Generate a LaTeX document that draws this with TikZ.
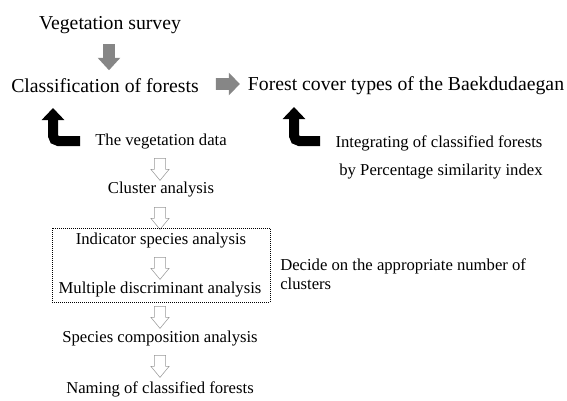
\documentclass[tikz,border=0pt]{standalone}
\usepackage{fontspec}
\setmainfont{Liberation Serif}
\usetikzlibrary{shapes.arrows,arrows.meta,positioning}

\begin{document}
\begin{tikzpicture}[x = 0.75pt, y = -0.75pt,
	big/.style = {font = \fontsize{14.8}{17}\selectfont, inner sep = 0pt},
	small/.style = {font = \fontsize{12.5}{14}\selectfont, inner sep = 0pt},
	grayarrow/.style = {single arrow, fill = gray!95, draw = none, inner xsep = 0pt,
		inner ysep = 4.2pt, single arrow head extend = 4.1pt},
	whitearrow/.style = {single arrow, draw = gray!80, fill = white, line width = 0.4pt,
		minimum height = 16.5pt, inner xsep = 0pt, inner ysep = 4pt,
		single arrow head extend = 2.6pt, single arrow tip angle = 79, rotate = -90},
	bent/.style = {line width = 7.5pt, rounded corners = 4pt,
		-{Triangle[width = 16.5pt, length = 9pt]}}]
	\useasboundingbox (0,0) rectangle (567,400);

	% top line
	\node[big] (survey) at (110,25) {Vegetation survey};
	\node[big] (classif) at (105,86) {Classification of forests};
	\node[big] (cover) at (406,86) {Forest cover types of the Baekdudaegan};
	\node[grayarrow, minimum height = 19.5pt, single arrow tip angle = 85,
		rotate = -90] (a0) at (109,54) {};
	\node[grayarrow, minimum height = 18pt, single arrow tip angle = 92] (a1) at (225,84) {};

	% bent arrows
	\coordinate (b1s) at (80,141);
	\coordinate (b1e) at (53,108);
	\coordinate (b2s) at (320,141);
	\coordinate (b2e) at (294,107);
	\draw[bent] (b1s) -| (b1e);
	\draw[bent] (b2s) -| (b2e);

	% right hand notes
	\node[small] (integ) at (439,143) {Integrating of classified forests};
	\node[small] (psi) at (441,172) {by Percentage similarity index};
	\node[small, anchor = west, align = left] (decide) at (280,274)
		{Decide on the appropriate number of\\clusters};

	% analysis chain
	\node[small] (data) at (161,142) {The vegetation data};
	\node[small] (cluster) at (161,190) {Cluster analysis};
	\node[small] (isa) at (161,241) {Indicator species analysis};
	\node[small] (mda) at (160,290) {Multiple discriminant analysis};
	\node[small] (sca) at (160,339) {Species composition analysis};
	\node[small] (naming) at (160,389) {Naming of classified forests};

	\node[whitearrow] (w1) at (160,166) {};
	\node[whitearrow] (w2) at (160,215) {};
	\node[whitearrow] (w3) at (160,265) {};
	\node[whitearrow] (w4) at (160,314) {};
	\node[whitearrow] (w5) at (160,363) {};

	\draw[densely dotted, line width = 0.5pt] (52,228) rectangle (270,302);
\end{tikzpicture}
\end{document}
